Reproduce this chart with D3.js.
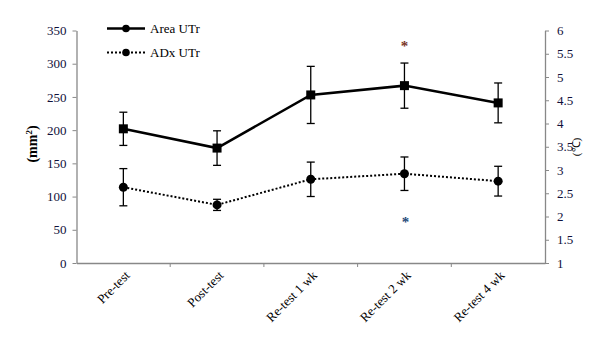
<!DOCTYPE html>
<html>
<head>
<meta charset="utf-8">
<script src="https://cdn.jsdelivr.net/npm/d3@7"></script>
<style>
  body { margin: 0; background: #fff; }
  svg { display: block; }
</style>
</head>
<body>
<svg id="chart" width="613" height="342" font-family="Liberation Serif, Times New Roman, serif"></svg>
<script>
const categories = ["Pre-test", "Post-test", "Re-test 1 wk", "Re-test 2 wk", "Re-test 4 wk"];
const areaValues = [202, 173, 253, 267, 241];
const areaErrors = [25, 26, 43, 34, 30];
const adxValues = [2.63, 2.25, 2.8, 2.92, 2.76];
const adxErrors = [0.4, 0.12, 0.37, 0.36, 0.32];
const leftTicks = [0, 50, 100, 150, 200, 250, 300, 350];
const rightTicks = [1, 1.5, 2, 2.5, 3, 3.5, 4, 4.5, 5, 5.5, 6];

const svg = d3.select("#chart");
const font = "Liberation Serif, Times New Roman, serif";
const margin = { top: 30.5, right: 68, bottom: 79, left: 76.5 };
const width = 613, height = 342;

const x = d3.scaleBand()
    .domain(categories)
    .range([margin.left, width - margin.right]);

const yLeft = d3.scaleLinear()
    .domain([0, 350])
    .range([height - margin.bottom, margin.top]);

const yRight = d3.scaleLinear()
    .domain([1, 6])
    .range([height - margin.bottom, margin.top]);

const cx = d => x(d) + x.bandwidth() / 2;

// axes
const axisColor = "#888";
const leftAxis = svg.append("g")
    .attr("transform", `translate(${margin.left},0)`)
    .call(d3.axisLeft(yLeft).tickValues(leftTicks).tickSize(4).tickSizeOuter(0).tickPadding(6));

const rightAxis = svg.append("g")
    .attr("transform", `translate(${width - margin.right},0)`)
    .call(d3.axisRight(yRight).tickValues(rightTicks).tickSize(4).tickSizeOuter(0).tickPadding(8)
        .tickFormat(d => d3.format("~g")(d)));

const bottomAxis = svg.append("g")
    .attr("transform", `translate(0,${height - margin.bottom})`)
    .call(d3.axisBottom(x).tickSize(0).tickFormat(""));

bottomAxis.selectAll(".tick").remove();
// boundary ticks between categories
bottomAxis.selectAll("line.sep")
    .data(categories.slice(1))
    .join("line")
    .attr("class", "sep")
    .attr("x1", d => x(d)).attr("x2", d => x(d))
    .attr("y1", 0).attr("y2", 4)
    .attr("stroke", axisColor);

bottomAxis.selectAll("text.cat")
    .data(categories)
    .join("text")
    .attr("class", "cat")
    .attr("transform", d => `translate(${cx(d) + 4},${10}) rotate(-45)`)
    .attr("text-anchor", "end")
    .attr("dy", "0.35em")
    .attr("fill", "#000")
    .attr("font-size", 13)
    .text(d => d);

[leftAxis, rightAxis, bottomAxis].forEach(g => {
    g.attr("font-family", font).attr("font-size", 13);
    g.select(".domain").attr("stroke", axisColor).attr("stroke-width", 1.3);
    g.selectAll(".tick line").attr("stroke", axisColor);
    g.selectAll(".tick text").attr("fill", "#10103a");
});

// axis titles
svg.append("text")
    .attr("transform", `translate(37,${144}) rotate(-90)`)
    .attr("text-anchor", "middle")
    .attr("font-size", 14)
    .attr("font-weight", "bold")
    .html('(mm<tspan baseline-shift="super" font-size="9">2</tspan>)');

svg.append("text")
    .attr("transform", `translate(580,${147}) rotate(-90)`)
    .attr("text-anchor", "middle")
    .attr("font-size", 11)
    .text("(℃)");

// error bars
function errorBars(vals, errs, scale) {
    const g = svg.append("g").attr("stroke", "#000").attr("stroke-width", 1.3);
    const capW = 4;
    categories.forEach((c, i) => {
        const x0 = cx(c);
        const top = scale(vals[i] + errs[i]), bot = scale(vals[i] - errs[i]);
        g.append("line").attr("x1", x0).attr("x2", x0).attr("y1", top).attr("y2", bot);
        g.append("line").attr("x1", x0 - capW).attr("x2", x0 + capW).attr("y1", top).attr("y2", top);
        g.append("line").attr("x1", x0 - capW).attr("x2", x0 + capW).attr("y1", bot).attr("y2", bot);
    });
}
errorBars(areaValues, areaErrors, yLeft);
errorBars(adxValues, adxErrors, yRight);

// lines
const areaLine = d3.line().x((d, i) => cx(categories[i])).y(d => yLeft(d));
const adxLine = d3.line().x((d, i) => cx(categories[i])).y(d => yRight(d));

svg.append("path")
    .datum(areaValues)
    .attr("d", areaLine)
    .attr("fill", "none")
    .attr("stroke", "#000")
    .attr("stroke-width", 2.5);

svg.append("path")
    .datum(adxValues)
    .attr("d", adxLine)
    .attr("fill", "none")
    .attr("stroke", "#000")
    .attr("stroke-width", 2)
    .attr("stroke-dasharray", "2,2");

// markers
svg.append("g")
    .selectAll("rect")
    .data(areaValues)
    .join("rect")
    .attr("x", (d, i) => cx(categories[i]) - 4.5)
    .attr("y", d => yLeft(d) - 4.5)
    .attr("width", 9)
    .attr("height", 9)
    .attr("fill", "#000");

svg.append("g")
    .selectAll("circle")
    .data(adxValues)
    .join("circle")
    .attr("cx", (d, i) => cx(categories[i]))
    .attr("cy", d => yRight(d))
    .attr("r", 4.5)
    .attr("fill", "#000");

// significance asterisks
svg.append("text")
    .attr("x", cx("Re-test 2 wk"))
    .attr("y", 51)
    .attr("text-anchor", "middle")
    .attr("fill", "#7a3528")
    .attr("font-size", 15)
    .attr("font-weight", "bold")
    .text("*");

svg.append("text")
    .attr("x", cx("Re-test 2 wk") + 1)
    .attr("y", 227)
    .attr("text-anchor", "middle")
    .attr("fill", "#1f4a7a")
    .attr("font-size", 15)
    .attr("font-weight", "bold")
    .text("*");

// legend
const legend = svg.append("g");
const legendItems = [
    { name: "Area UTr", y: 28.5, dash: null, width: 2.5 },
    { name: "ADx UTr", y: 52.5, dash: "2,2", width: 2 }
];
legendItems.forEach(item => {
    legend.append("line")
        .attr("x1", 107).attr("x2", 145)
        .attr("y1", item.y).attr("y2", item.y)
        .attr("stroke", "#000")
        .attr("stroke-width", item.width)
        .attr("stroke-dasharray", item.dash);
    legend.append("circle")
        .attr("cx", 126).attr("cy", item.y)
        .attr("r", 3.8)
        .attr("fill", "#000");
    legend.append("text")
        .attr("x", 150).attr("y", item.y)
        .attr("dy", "0.35em")
        .attr("font-size", 13)
        .text(item.name);
});
</script>
</body>
</html>
